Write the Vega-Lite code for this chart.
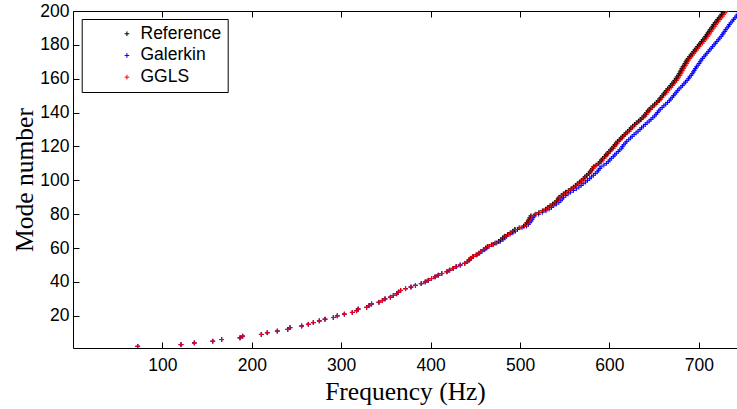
{
"$schema": "https://vega.github.io/schema/vega-lite/v6.json",
"width": 664, "height": 337,
"autosize": {"type": "none"},
"padding": {"left": 73, "top": 11, "right": 0, "bottom": 61},
"background": "white",
"config": {"view": {"stroke": null}, "axis": {"grid": false, "domainColor": "#000", "tickColor": "#000", "labelColor": "#000", "titleColor": "#000", "labelFont": "Liberation Sans", "labelFontSize": 17.5, "titleFont": "Liberation Serif", "titleFontSize": 25.5, "titleFontWeight": "normal", "tickSize": -6, "domainWidth": 1, "tickWidth": 1, "labelOverlap": false}},
"data": {"values": [
{"m":2,"Reference":72.4,"Galerkin":72.4,"GGLS":72.4},
{"m":3,"Reference":120.8,"Galerkin":120.8,"GGLS":120.8},
{"m":4,"Reference":135.7,"Galerkin":135.7,"GGLS":135.7},
{"m":5,"Reference":156.3,"Galerkin":156.3,"GGLS":156.3},
{"m":6,"Reference":166.3,"Galerkin":166.3,"GGLS":166.3},
{"m":7,"Reference":186.8,"Galerkin":186.8,"GGLS":186.8},
{"m":8,"Reference":189.8,"Galerkin":189.8,"GGLS":189.8},
{"m":9,"Reference":210.6,"Galerkin":210.6,"GGLS":210.6},
{"m":10,"Reference":217.3,"Galerkin":217.3,"GGLS":217.3},
{"m":11,"Reference":228.5,"Galerkin":228.5,"GGLS":228.5},
{"m":12,"Reference":240.2,"Galerkin":240.2,"GGLS":240.2},
{"m":13,"Reference":242.7,"Galerkin":242.7,"GGLS":242.7},
{"m":14,"Reference":255.8,"Galerkin":255.8,"GGLS":255.8},
{"m":15,"Reference":263.2,"Galerkin":263.2,"GGLS":263.2},
{"m":16,"Reference":268.8,"Galerkin":268.8,"GGLS":268.8},
{"m":17,"Reference":275.5,"Galerkin":275.5,"GGLS":275.5},
{"m":18,"Reference":281.9,"Galerkin":281.9,"GGLS":281.9},
{"m":19,"Reference":291.2,"Galerkin":291.2,"GGLS":291.2},
{"m":20,"Reference":295.6,"Galerkin":295.6,"GGLS":295.6},
{"m":21,"Reference":303.5,"Galerkin":303.5,"GGLS":303.5},
{"m":22,"Reference":312.4,"Galerkin":312.4,"GGLS":312.4},
{"m":23,"Reference":317.2,"Galerkin":317.2,"GGLS":317.2},
{"m":24,"Reference":319.0,"Galerkin":319.0,"GGLS":319.0},
{"m":25,"Reference":328.4,"Galerkin":328.4,"GGLS":328.4},
{"m":26,"Reference":331.0,"Galerkin":331.0,"GGLS":331.0},
{"m":27,"Reference":334.0,"Galerkin":334.0,"GGLS":334.0},
{"m":28,"Reference":342.2,"Galerkin":342.2,"GGLS":342.2},
{"m":29,"Reference":346.0,"Galerkin":346.0,"GGLS":346.0},
{"m":30,"Reference":349.0,"Galerkin":349.0,"GGLS":349.0},
{"m":31,"Reference":355.0,"Galerkin":355.0,"GGLS":355.0},
{"m":32,"Reference":358.3,"Galerkin":358.3,"GGLS":358.3},
{"m":33,"Reference":362.0,"Galerkin":362.0,"GGLS":362.0},
{"m":34,"Reference":364.0,"Galerkin":364.0,"GGLS":364.0},
{"m":35,"Reference":366.5,"Galerkin":366.5,"GGLS":366.5},
{"m":36,"Reference":372.0,"Galerkin":372.0,"GGLS":372.0},
{"m":37,"Reference":378.0,"Galerkin":378.0,"GGLS":378.0},
{"m":38,"Reference":383.0,"Galerkin":383.0,"GGLS":383.0},
{"m":39,"Reference":389.5,"Galerkin":389.5,"GGLS":389.5},
{"m":40,"Reference":394.0,"Galerkin":394.0,"GGLS":394.0},
{"m":41,"Reference":397.4,"Galerkin":397.4,"GGLS":397.4},
{"m":42,"Reference":401.0,"Galerkin":401.0,"GGLS":401.0},
{"m":43,"Reference":405.0,"Galerkin":405.0,"GGLS":405.0},
{"m":44,"Reference":408.5,"Galerkin":408.5,"GGLS":408.5},
{"m":45,"Reference":412.5,"Galerkin":412.5,"GGLS":412.5},
{"m":46,"Reference":418.0,"Galerkin":418.5,"GGLS":418.0},
{"m":47,"Reference":421.0,"Galerkin":421.5,"GGLS":421.0},
{"m":48,"Reference":425.0,"Galerkin":425.5,"GGLS":425.0},
{"m":49,"Reference":428.4,"Galerkin":429.0,"GGLS":428.4},
{"m":50,"Reference":433.0,"Galerkin":433.5,"GGLS":433.0},
{"m":51,"Reference":438.0,"Galerkin":438.5,"GGLS":438.0},
{"m":52,"Reference":441.0,"Galerkin":441.5,"GGLS":441.0},
{"m":53,"Reference":443.0,"Galerkin":443.8,"GGLS":443.0},
{"m":54,"Reference":444.5,"Galerkin":445.5,"GGLS":444.5},
{"m":55,"Reference":447.0,"Galerkin":448.0,"GGLS":447.0},
{"m":56,"Reference":451.0,"Galerkin":452.0,"GGLS":451.0},
{"m":57,"Reference":454.0,"Galerkin":455.0,"GGLS":454.0},
{"m":58,"Reference":456.0,"Galerkin":457.5,"GGLS":456.0},
{"m":59,"Reference":459.0,"Galerkin":460.5,"GGLS":459.0},
{"m":60,"Reference":461.5,"Galerkin":463.0,"GGLS":461.5},
{"m":61,"Reference":463.5,"Galerkin":465.5,"GGLS":464.5},
{"m":62,"Reference":468.0,"Galerkin":470.0,"GGLS":469.0},
{"m":63,"Reference":472.0,"Galerkin":474.0,"GGLS":473.0},
{"m":64,"Reference":476.0,"Galerkin":478.0,"GGLS":477.0},
{"m":65,"Reference":478.5,"Galerkin":481.0,"GGLS":479.5},
{"m":66,"Reference":480.5,"Galerkin":483.0,"GGLS":481.5},
{"m":67,"Reference":482.5,"Galerkin":485.0,"GGLS":483.5},
{"m":68,"Reference":486.0,"Galerkin":488.8,"GGLS":487.0},
{"m":69,"Reference":489.0,"Galerkin":492.0,"GGLS":490.0},
{"m":70,"Reference":492.0,"Galerkin":495.0,"GGLS":493.0},
{"m":71,"Reference":494.0,"Galerkin":497.2,"GGLS":495.0},
{"m":72,"Reference":499.0,"Galerkin":502.2,"GGLS":500.0},
{"m":73,"Reference":504.0,"Galerkin":507.3,"GGLS":505.0},
{"m":74,"Reference":506.0,"Galerkin":509.4,"GGLS":507.0},
{"m":75,"Reference":507.5,"Galerkin":511.0,"GGLS":508.5},
{"m":76,"Reference":509.0,"Galerkin":512.5,"GGLS":510.0},
{"m":77,"Reference":510.0,"Galerkin":513.6,"GGLS":511.0},
{"m":78,"Reference":511.0,"Galerkin":514.7,"GGLS":512.0},
{"m":79,"Reference":512.0,"Galerkin":515.8,"GGLS":513.0},
{"m":80,"Reference":517.0,"Galerkin":520.8,"GGLS":518.0},
{"m":81,"Reference":521.0,"Galerkin":524.9,"GGLS":522.0},
{"m":82,"Reference":525.0,"Galerkin":529.0,"GGLS":526.0},
{"m":83,"Reference":528.5,"Galerkin":532.6,"GGLS":529.5},
{"m":84,"Reference":531.0,"Galerkin":535.2,"GGLS":532.0},
{"m":85,"Reference":533.5,"Galerkin":537.8,"GGLS":534.5},
{"m":86,"Reference":536.5,"Galerkin":540.9,"GGLS":537.5},
{"m":87,"Reference":539.0,"Galerkin":543.5,"GGLS":540.0},
{"m":88,"Reference":541.0,"Galerkin":545.6,"GGLS":542.0},
{"m":89,"Reference":542.5,"Galerkin":547.2,"GGLS":543.5},
{"m":90,"Reference":543.5,"Galerkin":548.5,"GGLS":544.5},
{"m":91,"Reference":546.0,"Galerkin":551.2,"GGLS":547.0},
{"m":92,"Reference":548.4,"Galerkin":553.8,"GGLS":549.4},
{"m":93,"Reference":551.0,"Galerkin":556.6,"GGLS":552.0},
{"m":94,"Reference":554.0,"Galerkin":559.8,"GGLS":555.0},
{"m":95,"Reference":557.0,"Galerkin":563.0,"GGLS":558.0},
{"m":96,"Reference":559.6,"Galerkin":565.8,"GGLS":560.6},
{"m":97,"Reference":562.0,"Galerkin":568.4,"GGLS":563.0},
{"m":98,"Reference":564.0,"Galerkin":570.6,"GGLS":565.0},
{"m":99,"Reference":566.5,"Galerkin":573.3,"GGLS":567.5},
{"m":100,"Reference":568.5,"Galerkin":575.5,"GGLS":569.5},
{"m":101,"Reference":570.8,"Galerkin":577.9,"GGLS":571.8},
{"m":102,"Reference":572.5,"Galerkin":579.8,"GGLS":573.5},
{"m":103,"Reference":574.5,"Galerkin":582.0,"GGLS":575.5},
{"m":104,"Reference":576.5,"Galerkin":584.2,"GGLS":577.5},
{"m":105,"Reference":578.3,"Galerkin":586.3,"GGLS":579.3},
{"m":106,"Reference":579.5,"Galerkin":587.7,"GGLS":580.5},
{"m":107,"Reference":581.0,"Galerkin":589.4,"GGLS":582.0},
{"m":108,"Reference":582.0,"Galerkin":590.6,"GGLS":583.0},
{"m":109,"Reference":585.0,"Galerkin":593.8,"GGLS":586.0},
{"m":110,"Reference":587.6,"Galerkin":596.6,"GGLS":588.6},
{"m":111,"Reference":589.5,"Galerkin":598.7,"GGLS":591.0},
{"m":112,"Reference":591.0,"Galerkin":600.4,"GGLS":592.5},
{"m":113,"Reference":592.5,"Galerkin":602.1,"GGLS":594.0},
{"m":114,"Reference":594.5,"Galerkin":604.3,"GGLS":596.0},
{"m":115,"Reference":596.0,"Galerkin":606.0,"GGLS":597.5},
{"m":116,"Reference":597.5,"Galerkin":607.7,"GGLS":599.0},
{"m":117,"Reference":599.5,"Galerkin":609.9,"GGLS":601.0},
{"m":118,"Reference":601.0,"Galerkin":611.6,"GGLS":602.5},
{"m":119,"Reference":603.0,"Galerkin":613.8,"GGLS":604.5},
{"m":120,"Reference":604.5,"Galerkin":614.5,"GGLS":606.0},
{"m":121,"Reference":606.0,"Galerkin":616.1,"GGLS":607.5},
{"m":122,"Reference":607.5,"Galerkin":617.8,"GGLS":609.0},
{"m":123,"Reference":609.0,"Galerkin":619.4,"GGLS":610.5},
{"m":124,"Reference":611.0,"Galerkin":621.6,"GGLS":612.5},
{"m":125,"Reference":613.0,"Galerkin":623.7,"GGLS":614.5},
{"m":126,"Reference":614.5,"Galerkin":625.4,"GGLS":616.0},
{"m":127,"Reference":616.5,"Galerkin":627.6,"GGLS":618.0},
{"m":128,"Reference":618.5,"Galerkin":629.8,"GGLS":620.0},
{"m":129,"Reference":620.5,"Galerkin":632.0,"GGLS":622.0},
{"m":130,"Reference":622.5,"Galerkin":634.2,"GGLS":624.0},
{"m":131,"Reference":624.0,"Galerkin":635.9,"GGLS":625.5},
{"m":132,"Reference":626.0,"Galerkin":638.0,"GGLS":627.5},
{"m":133,"Reference":628.0,"Galerkin":640.1,"GGLS":629.5},
{"m":134,"Reference":630.0,"Galerkin":642.2,"GGLS":631.5},
{"m":135,"Reference":632.5,"Galerkin":644.5,"GGLS":634.0},
{"m":136,"Reference":634.5,"Galerkin":646.5,"GGLS":636.0},
{"m":137,"Reference":636.5,"Galerkin":648.6,"GGLS":638.0},
{"m":138,"Reference":638.5,"Galerkin":650.6,"GGLS":640.0},
{"m":139,"Reference":640.0,"Galerkin":652.2,"GGLS":641.5},
{"m":140,"Reference":641.5,"Galerkin":653.7,"GGLS":643.0},
{"m":141,"Reference":643.0,"Galerkin":655.3,"GGLS":644.5},
{"m":142,"Reference":644.5,"Galerkin":656.8,"GGLS":646.0},
{"m":143,"Reference":646.5,"Galerkin":658.9,"GGLS":648.0},
{"m":144,"Reference":648.5,"Galerkin":660.9,"GGLS":650.0},
{"m":145,"Reference":650.5,"Galerkin":663.0,"GGLS":652.0},
{"m":146,"Reference":652.5,"Galerkin":665.0,"GGLS":654.0},
{"m":147,"Reference":654.5,"Galerkin":667.0,"GGLS":656.0},
{"m":148,"Reference":656.0,"Galerkin":668.6,"GGLS":657.5},
{"m":149,"Reference":657.5,"Galerkin":670.2,"GGLS":659.0},
{"m":150,"Reference":659.0,"Galerkin":671.7,"GGLS":660.5},
{"m":151,"Reference":660.5,"Galerkin":673.3,"GGLS":662.5},
{"m":152,"Reference":662.0,"Galerkin":674.8,"GGLS":664.0},
{"m":153,"Reference":663.5,"Galerkin":676.4,"GGLS":665.5},
{"m":154,"Reference":665.0,"Galerkin":677.9,"GGLS":667.0},
{"m":155,"Reference":667.0,"Galerkin":680.0,"GGLS":669.0},
{"m":156,"Reference":668.5,"Galerkin":681.7,"GGLS":670.5},
{"m":157,"Reference":670.0,"Galerkin":683.4,"GGLS":672.0},
{"m":158,"Reference":671.5,"Galerkin":685.1,"GGLS":673.5},
{"m":159,"Reference":673.0,"Galerkin":686.8,"GGLS":675.0},
{"m":160,"Reference":674.5,"Galerkin":688.5,"GGLS":676.5},
{"m":161,"Reference":675.5,"Galerkin":689.7,"GGLS":677.5},
{"m":162,"Reference":677.0,"Galerkin":691.4,"GGLS":679.0},
{"m":163,"Reference":678.0,"Galerkin":692.6,"GGLS":680.0},
{"m":164,"Reference":679.0,"Galerkin":693.8,"GGLS":681.0},
{"m":165,"Reference":680.0,"Galerkin":695.0,"GGLS":682.0},
{"m":166,"Reference":681.0,"Galerkin":696.2,"GGLS":683.0},
{"m":167,"Reference":682.0,"Galerkin":697.4,"GGLS":684.0},
{"m":168,"Reference":683.5,"Galerkin":699.1,"GGLS":685.5},
{"m":169,"Reference":684.5,"Galerkin":700.3,"GGLS":686.5},
{"m":170,"Reference":685.5,"Galerkin":701.5,"GGLS":687.5},
{"m":171,"Reference":686.5,"Galerkin":702.6,"GGLS":688.5},
{"m":172,"Reference":688.0,"Galerkin":704.2,"GGLS":690.0},
{"m":173,"Reference":689.5,"Galerkin":705.8,"GGLS":691.5},
{"m":174,"Reference":691.0,"Galerkin":707.4,"GGLS":693.0},
{"m":175,"Reference":692.5,"Galerkin":709.0,"GGLS":694.5},
{"m":176,"Reference":694.0,"Galerkin":710.6,"GGLS":696.0},
{"m":177,"Reference":695.5,"Galerkin":712.2,"GGLS":697.5},
{"m":178,"Reference":697.0,"Galerkin":713.8,"GGLS":699.0},
{"m":179,"Reference":698.5,"Galerkin":715.4,"GGLS":700.5},
{"m":180,"Reference":700.0,"Galerkin":717.0,"GGLS":702.0},
{"m":181,"Reference":701.5,"Galerkin":718.6,"GGLS":704.0},
{"m":182,"Reference":703.0,"Galerkin":720.2,"GGLS":705.5},
{"m":183,"Reference":704.5,"Galerkin":721.8,"GGLS":707.0},
{"m":184,"Reference":706.0,"Galerkin":723.4,"GGLS":708.5},
{"m":185,"Reference":707.5,"Galerkin":725.0,"GGLS":710.0},
{"m":186,"Reference":708.8,"Galerkin":726.3,"GGLS":711.3},
{"m":187,"Reference":710.0,"Galerkin":727.5,"GGLS":712.5},
{"m":188,"Reference":711.5,"Galerkin":729.1,"GGLS":714.0},
{"m":189,"Reference":712.5,"Galerkin":730.1,"GGLS":715.0},
{"m":190,"Reference":714.0,"Galerkin":731.6,"GGLS":716.5},
{"m":191,"Reference":715.5,"Galerkin":733.2,"GGLS":718.0},
{"m":192,"Reference":716.5,"Galerkin":734.2,"GGLS":719.0},
{"m":193,"Reference":718.0,"Galerkin":735.8,"GGLS":720.5},
{"m":194,"Reference":719.5,"Galerkin":737.4,"GGLS":722.0},
{"m":195,"Reference":721.0,"Galerkin":738.9,"GGLS":723.5},
{"m":196,"Reference":722.5,"Galerkin":740.4,"GGLS":725.0},
{"m":197,"Reference":724.0,"Galerkin":742.0,"GGLS":726.5},
{"m":198,"Reference":725.5,"Galerkin":743.5,"GGLS":728.0},
{"m":199,"Reference":727.0,"Galerkin":745.0,"GGLS":729.5},
{"m":200,"Reference":728.5,"Galerkin":746.5,"GGLS":731.0}
]},
"transform": [{"fold": ["Reference", "Galerkin", "GGLS"], "as": ["Method", "Frequency"]}],
"layer": [
{
"mark": {"type": "point", "shape": "M-1,0L1,0M0,-1L0,1", "filled": false, "size": 22, "strokeWidth": 1, "opacity": 1, "clip": true},
"encoding": {
"x": {"field": "Frequency", "type": "quantitative", "scale": {"domain": [0, 742.7], "nice": false, "zero": false},
 "axis": {"orient": "bottom", "values": [100, 200, 300, 400, 500, 600, 700], "labelPadding": 14, "labelOverlap": false, "title": "Frequency (Hz)", "titlePadding": 6}},
"y": {"field": "m", "type": "quantitative", "scale": {"domain": [1, 200], "nice": false, "zero": false},
 "axis": {"values": [20, 40, 60, 80, 100, 120, 140, 160, 180, 200], "labelPadding": 10, "labelOverlap": false, "labelFlush": false, "labelSeparation": 0, "title": "Mode number", "titlePadding": 2}},
"color": {"field": "Method", "type": "nominal", "scale": {"domain": ["Reference", "Galerkin", "GGLS"], "range": ["#000000", "#0000ff", "#ff0000"]},
 "legend": {"orient": "none", "legendX": 8.7, "legendY": 8, "title": null, "strokeColor": "#000", "fillColor": "#fff", "padding": 6, "rowPadding": 2.7, "symbolType": "M2.7,0L4.7,0M3.7,-1L3.7,1", "symbolSize": 22, "symbolStrokeWidth": 1, "symbolOffset": 21.8, "labelOffset": 13.5, "labelFont": "Liberation Sans", "labelFontSize": 17.5, "labelColor": "#000", "cornerRadius": 0}}
}
},
{
"mark": {"type": "point", "opacity": 0},
"encoding": {
"x": {"field": "Frequency", "type": "quantitative", "axis": {"orient": "top", "values": [100, 200, 300, 400, 500, 600, 700], "labels": false, "title": null}}
}
}
],
"resolve": {"axis": {"x": "independent"}}
}
